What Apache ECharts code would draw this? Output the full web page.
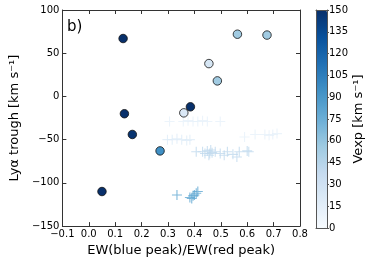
<!DOCTYPE html>
<html><head><meta charset="utf-8">
<script src="https://cdn.jsdelivr.net/npm/echarts@6/dist/echarts.min.js"></script>
<style>html,body{margin:0;padding:0;background:#fff}#c{width:374px;height:262px}</style>
</head><body><div id="c"></div>
<script>
// Circles: x = EW ratio, y = Lya trough, v = Vexp
var circX = [0.13, 0.135, 0.165, 0.05, 0.27, 0.36, 0.385, 0.455, 0.487, 0.563, 0.675];
var circY = [67, -20, -44, -110, -63, -19, -12, 38, 18, 72, 71];
var circV = [150, 150, 148, 150, 95, 22, 150, 25, 55, 55, 55];

// Crosses
var crossX = [
  0.306, 0.358, 0.376, 0.395, 0.413, 0.431, 0.449, 0.498,
  0.298, 0.316, 0.334, 0.352, 0.371, 0.383,
  0.407, 0.431, 0.449, 0.458, 0.462, 0.467, 0.479, 0.498, 0.513, 0.525, 0.546, 0.561, 0.570, 0.600, 0.606, 0.440, 0.455,
  0.590, 0.630, 0.667, 0.683, 0.697, 0.713,
  0.334, 0.383, 0.390, 0.395, 0.400, 0.407, 0.413
];
var crossY = [
  -29, -29, -28, -29, -29, -28, -29, -29,
  -50, -50, -49, -50, -51, -50,
  -64, -64, -63, -66, -62, -65, -64, -66, -68, -64, -67, -70, -64, -63, -64, -66, -68,
  -47, -44, -44, -45, -44, -43,
  -114, -117, -118, -115, -114, -112, -110
];
var crossV = [
  12, 12, 12, 12, 12, 12, 12, 12,
  18, 18, 18, 18, 18, 18,
  40, 40, 40, 40, 40, 40, 40, 40, 40, 40, 40, 40, 40, 40, 40, 40, 40,
  12, 12, 12, 12, 12, 12,
  80, 80, 80, 80, 80, 80, 80
];

var xTicks = [-0.1, 0.0, 0.1, 0.2, 0.3, 0.4, 0.5, 0.6, 0.7, 0.8];
var yTicks = [-150, -100, -50, 0, 50, 100];
var cbTicks = [0, 15, 30, 45, 60, 75, 90, 105, 120, 135, 150];

var circData = circX.map(function (x, i) { return [x, circY[i], circV[i]]; });
var crossData = crossX.map(function (x, i) { return [x, crossY[i], crossV[i]]; });

var blues = ['#f7fbff', '#deebf7', '#c6dbef', '#9ecae1', '#6baed6', '#4292c6', '#2171b5', '#08519c', '#08306b'];
var FONT = 'DejaVu Sans';
var AX = '#333';

function frameAxis(extra) {
  var base = {
    axisLine: { onZero: false, lineStyle: { color: AX } },
    axisTick: { inside: true, length: 4, lineStyle: { color: AX } },
    axisLabel: { show: false }, splitLine: { show: false }
  };
  for (var k in extra) base[k] = extra[k];
  return base;
}

var chart = echarts.init(document.getElementById('c'), null, { renderer: 'canvas' });
chart.setOption({
  animation: false,
  textStyle: { fontFamily: FONT },
  grid: [
    { left: 52, top: 10, width: 248, height: 218 },
    { left: 316, top: 10, width: 11, height: 218 }
  ],
  xAxis: [
    frameAxis({ gridIndex: 0, type: 'value', min: -0.1, max: 0.8, interval: 0.1, position: 'bottom',
      name: 'EW(blue peak)/EW(red peak)', nameLocation: 'middle', nameGap: 14,
      nameTextStyle: { fontFamily: FONT, fontSize: 13, color: '#000' },
      axisLabel: { fontFamily: FONT, fontSize: 10, color: '#000', margin: 3,
        customValues: xTicks,
        formatter: function (v) { return (v < 0 ? '\u2212' : '') + Math.abs(v).toFixed(1); } } }),
    frameAxis({ gridIndex: 0, type: 'value', min: -0.1, max: 0.8, interval: 0.1, position: 'top' }),
    { gridIndex: 1, type: 'value', min: 0, max: 1, position: 'bottom', z: 10,
      axisLine: { onZero: false, lineStyle: { color: '#555' } }, axisTick: { show: false },
      axisLabel: { show: false }, splitLine: { show: false } },
    { gridIndex: 1, type: 'value', min: 0, max: 1, position: 'top', z: 10,
      axisLine: { onZero: false, lineStyle: { color: '#555' } }, axisTick: { show: false },
      axisLabel: { show: false }, splitLine: { show: false } }
  ],
  yAxis: [
    frameAxis({ gridIndex: 0, type: 'value', min: -150, max: 100, interval: 50, position: 'left',
      name: 'Ly\u03b1 trough [km s\u207b\u00b9]', nameLocation: 'middle', nameGap: 26,
      nameTextStyle: { fontFamily: FONT, fontSize: 13, color: '#000' },
      axisLabel: { fontFamily: FONT, fontSize: 10, color: '#000', margin: 3,
        formatter: function (v) { return (v < 0 ? '\u2212' : '') + Math.abs(v); } } }),
    frameAxis({ gridIndex: 0, type: 'value', min: -150, max: 100, interval: 50, position: 'right' }),
    { gridIndex: 1, type: 'value', min: 0, max: 150, interval: 15, position: 'right', z: 10,
      name: 'Vexp [km s\u207b\u00b9]', nameLocation: 'middle', nameGap: 22, nameRotate: 90,
      nameTextStyle: { fontFamily: FONT, fontSize: 13, color: '#000' },
      axisLine: { onZero: false, lineStyle: { color: '#555' } },
      axisTick: { inside: false, length: 2, lineStyle: { color: '#555' } },
      axisLabel: { fontFamily: FONT, fontSize: 10, color: '#000', margin: 2 },
      splitLine: { show: false } },
    { gridIndex: 1, type: 'value', min: 0, max: 150, position: 'left', z: 10,
      axisLine: { onZero: false, lineStyle: { color: '#555' } }, axisTick: { show: false },
      axisLabel: { show: false }, splitLine: { show: false } }
  ],
  visualMap: {
    type: 'continuous', min: 0, max: 150, dimension: 2, seriesIndex: [0, 1],
    left: 316, top: 10, itemWidth: 11, itemHeight: 218, padding: 0,
    calculable: false, hoverLink: false, text: null, showLabel: false,
    inRange: { color: blues }
  },
  series: [
    { type: 'scatter', xAxisIndex: 0, yAxisIndex: 0, data: crossData,
      symbol: 'path://M0,4.45H10V5.55H0ZM4.45,0H5.55V10H4.45Z', symbolSize: 10,
      itemStyle: { opacity: 0.8 } },
    { type: 'scatter', xAxisIndex: 0, yAxisIndex: 0, data: circData,
      symbol: 'circle', symbolSize: 8.5,
      itemStyle: { borderColor: '#111', borderWidth: 0.8, opacity: 1 } }
  ],
  graphic: [
    { type: 'text', left: 67, top: 20, style: { text: 'b)', font: '15px "DejaVu Sans"', fill: '#000' } }
  ]
});
</script></body></html>
